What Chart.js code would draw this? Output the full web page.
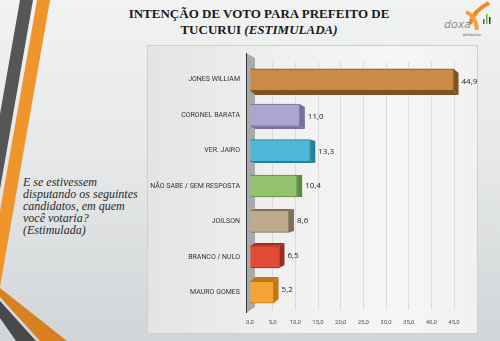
<!DOCTYPE html>
<html>
<head>
<meta charset="utf-8">
<script src="https://cdn.jsdelivr.net/npm/chart.js@4"></script>
<style>
  html, body { margin: 0; padding: 0; }
  body {
    width: 500px; height: 341px; overflow: hidden; position: relative;
    background: linear-gradient(to bottom, #f1f2f2 0%, #e6e8e9 45%, #d2d5d7 100%);
  }
  #deco { position: absolute; left: 0; top: 0; }
  .panel {
    position: absolute; left: 147px; top: 45px; width: 329px; height: 287px;
    background: linear-gradient(to right, #e4e4e4 0%, #f0f0f0 40%, #f6f6f6 75%, #f1f1f1 100%);
    border: 1px solid #cfcfcf;
  }
  #chart { position: absolute; left: 147px; top: 45px; }
  .title {
    position: absolute; left: 100px; width: 318px; top: 6px; text-align: center;
    font-family: "Liberation Serif", serif; font-weight: bold; font-size: 13px;
    line-height: 16px; color: #1a1a1a;
  }
  .question {
    position: absolute; left: 23px; top: 176px; width: 140px; white-space: nowrap;
    font-family: "Liberation Serif", serif; font-style: italic; font-size: 12px;
    line-height: 12px; color: #2a2a2a;
  }
  .logo-text {
    position: absolute; left: 444px; top: 18px;
    font-family: "DejaVu Sans", sans-serif; font-size: 11px; color: #8f8f8f; font-style: italic;
  }
  .logo-sub {
    position: absolute; left: 463px; top: 32px;
    font-family: "DejaVu Sans", sans-serif; font-size: 4px; color: #666;
  }
</style>
</head>
<body>
<svg id="deco" width="500" height="341">
  <polygon points="20,0 33,0 0,189 0,114" fill="#555656"/>
  <polygon points="37,0 50,0 0,287 0,211" fill="#f0952b"/>
  <polygon points="0,288 67,341 40,341 0,297" fill="#d98120"/>
  <polygon points="0,301 36,341 16,341 0,318" fill="#474849"/>
  <path d="M489,3 Q474,10 470,24" stroke="#f08a1e" stroke-width="4" fill="none"/>
  <path d="M466,12 Q476,16 477,30" stroke="#f5a23a" stroke-width="4" fill="none"/>
  <rect x="483" y="19" width="1.5" height="5" fill="#3a7a3a"/>
  <rect x="486" y="14" width="1.5" height="10" fill="#6fb24a"/>
  <rect x="489" y="17" width="1.5" height="7" fill="#333"/>
</svg>
<div class="logo-text">doxa</div>
<div class="logo-sub">pesquisa</div>
<div class="title">INTENÇÃO DE VOTO PARA PREFEITO DE<br>TUCURUI <i>(ESTIMULADA)</i></div>
<div class="question">E se estivessem<br>disputando os seguintes<br>candidatos, em quem<br>você votaria?<br>(Estimulada)</div>
<div class="panel"></div>
<canvas id="chart" width="345" height="288"></canvas>
<script>
  var categories = ['JONES WILLIAM', 'CORONEL BARATA', 'VER. JAIRO', 'NÃO SABE / SEM RESPOSTA', 'JOILSON', 'BRANCO / NULO', 'MAURO GOMES'];
  var votes = [44.9, 11.0, 13.3, 10.4, 8.6, 6.5, 5.2];
  var faceColors = ['#c98b45', '#aba6d0', '#4db7d6', '#92c26e', '#bcab8e', '#e24c36', '#f5a236'];
  var edgeColors = ['#7e5320', '#76709f', '#23809c', '#5a8a42', '#7f7053', '#9c2d1e', '#c07816'];
  var axisMax = 45;
  var axisStep = 5;

  function fmt(v) {
    return v.toFixed(1).replace('.', ',');
  }

  /* parede 3D + faces laterais das barras */
  var depthPlugin = {
    id: 'depth',
    beforeDatasetsDraw: function (chart) {
      var ctx = chart.ctx;
      var area = chart.chartArea;
      ctx.save();
      // parede cinza do eixo
      ctx.fillStyle = '#a9aaab';
      ctx.beginPath();
      ctx.moveTo(area.left - 4, area.top - 9);
      ctx.lineTo(area.left + 5, area.top - 4);
      ctx.lineTo(area.left + 5, area.bottom - 3);
      ctx.lineTo(area.left - 4, area.bottom + 3);
      ctx.closePath();
      ctx.fill();
      ctx.strokeStyle = '#333';
      ctx.lineWidth = 1;
      ctx.beginPath();
      ctx.moveTo(area.left - 3.5, area.top - 9);
      ctx.lineTo(area.left - 3.5, area.bottom + 3);
      ctx.stroke();

      var midY = (area.top + area.bottom) / 2;
      var meta = chart.getDatasetMeta(0);
      meta.data.forEach(function (bar, i) {
        var p = bar.getProps(['x', 'y', 'base', 'height'], true);
        var top = p.y - p.height / 2;
        var bottom = p.y + p.height / 2;
        var dx = 5;
        var dy = (midY - p.y) * 0.04;
        ctx.fillStyle = edgeColors[i];
        ctx.beginPath();
        ctx.moveTo(p.x, top);
        ctx.lineTo(p.x + dx, top + dy);
        ctx.lineTo(p.x + dx, bottom + dy);
        ctx.lineTo(p.x, bottom);
        ctx.closePath();
        ctx.fill();
        var yEdge = dy > 0 ? bottom : top;
        ctx.beginPath();
        ctx.moveTo(p.base, yEdge);
        ctx.lineTo(p.x, yEdge);
        ctx.lineTo(p.x + dx, yEdge + dy);
        ctx.lineTo(p.base + dx, yEdge + dy);
        ctx.closePath();
        ctx.fill();
      });
      ctx.restore();
    },
    afterDatasetsDraw: function (chart) {
      var ctx = chart.ctx;
      var area = chart.chartArea;
      var midY = (area.top + area.bottom) / 2;
      var meta = chart.getDatasetMeta(0);
      ctx.save();
      ctx.font = '8px "Open Sans", sans-serif';
      ctx.fillStyle = '#222';
      ctx.textBaseline = 'middle';
      meta.data.forEach(function (bar, i) {
        var p = bar.getProps(['x', 'y'], true);
        var dy = (midY - p.y) * 0.04;
        ctx.fillText(fmt(votes[i]), p.x + 8, p.y + dy / 2);
      });
      ctx.restore();
    }
  };

  new Chart(document.getElementById('chart'), {
    type: 'bar',
    data: {
      labels: categories,
      datasets: [{
        data: votes,
        backgroundColor: faceColors,
        borderColor: edgeColors,
        borderWidth: 1,
        barThickness: 22,
        categoryPercentage: 1
      }]
    },
    options: {
      indexAxis: 'y',
      responsive: false,
      animation: false,
      devicePixelRatio: 1,
      layout: { padding: { top: 17, right: 38, left: 0, bottom: 0 } },
      plugins: {
        legend: { display: false },
        tooltip: { enabled: false }
      },
      scales: {
        x: {
          min: 0,
          max: axisMax,
          afterFit: function (s) { s.height = 23; },
          ticks: {
            stepSize: axisStep,
            padding: 9,
            color: '#555',
            font: { family: 'Roboto', size: 6 },
            callback: function (v) { return fmt(v); }
          },
          grid: {
            color: function (c) { return c.tick.value === 0 ? 'rgba(0,0,0,0)' : '#d6d6d6'; },
            lineWidth: 0.8,
            drawTicks: false
          },
          border: { display: false }
        },
        y: {
          afterFit: function (s) { s.width = 103; },
          ticks: {
            padding: 10,
            color: '#333',
            font: { family: 'Roboto', size: 7 }
          },
          grid: { display: false, drawTicks: false },
          border: { display: false }
        }
      }
    },
    plugins: [depthPlugin]
  });
</script>
</body>
</html>
